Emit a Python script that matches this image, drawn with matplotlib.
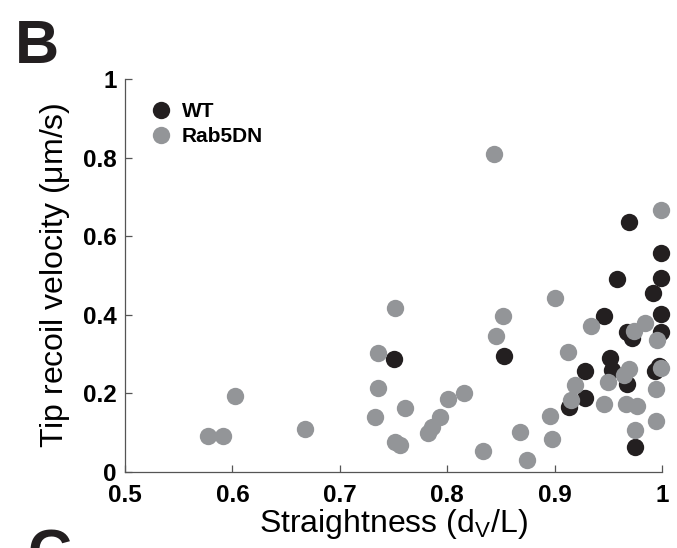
import matplotlib
matplotlib.use("Agg")
import matplotlib.pyplot as plt

plt.rcParams["font.family"] = ["Liberation Sans", "DejaVu Sans"]

# %% DATA
wt_x = [0.750, 0.853, 0.913, 0.928, 0.928, 0.946, 0.952, 0.953, 0.958, 0.967,
        0.967, 0.969, 0.972, 0.975, 0.992, 0.993, 0.997, 0.999, 0.999, 0.999,
        0.999]
wt_y = [0.287, 0.296, 0.165, 0.189, 0.257, 0.398, 0.290, 0.260, 0.492, 0.355,
        0.225, 0.636, 0.340, 0.064, 0.456, 0.258, 0.270, 0.558, 0.494, 0.401,
        0.355]

rab_x = [0.577, 0.591, 0.602, 0.668, 0.733, 0.736, 0.736, 0.751, 0.751, 0.756,
         0.761, 0.782, 0.786, 0.793, 0.801, 0.816, 0.833, 0.844, 0.845, 0.852,
         0.868, 0.874, 0.896, 0.898, 0.900, 0.912, 0.915, 0.919, 0.934, 0.946,
         0.950, 0.965, 0.966, 0.969, 0.974, 0.975, 0.977, 0.984, 0.994, 0.994,
         0.995, 0.999, 0.999]
rab_y = [0.092, 0.092, 0.193, 0.109, 0.141, 0.213, 0.302, 0.418, 0.076, 0.068,
         0.162, 0.098, 0.115, 0.139, 0.187, 0.200, 0.053, 0.809, 0.346, 0.397,
         0.103, 0.030, 0.143, 0.084, 0.444, 0.306, 0.184, 0.222, 0.372, 0.173,
         0.229, 0.246, 0.174, 0.262, 0.358, 0.107, 0.168, 0.380, 0.211, 0.131,
         0.337, 0.667, 0.264]

x_ticks = [0.5, 0.6, 0.7, 0.8, 0.9, 1.0]
x_labels = ["0.5", "0.6", "0.7", "0.8", "0.9", "1"]
y_ticks = [0, 0.2, 0.4, 0.6, 0.8, 1.0]
y_labels = ["0", "0.2", "0.4", "0.6", "0.8", "1"]

# %% PLOTTING
black = "#231f20"
gray = "#939598"
axis_col = "#555555"

fig = plt.figure(figsize=(6.77, 5.48), dpi=100)
ax = fig.add_axes([0.1846, 0.1387, 0.7933, 0.7171])

ax.plot(wt_x, wt_y, "o", color=black, markersize=12.5, markeredgewidth=0,
        clip_on=False, label="WT")
ax.plot(rab_x, rab_y, "o", color=gray, markersize=12.5, markeredgewidth=0,
        clip_on=False, label="Rab5DN")

ax.set_xlim(0.5, 1.0)
ax.set_ylim(0, 1.0)
ax.set_xticks(x_ticks)
ax.set_xticklabels(x_labels, fontsize=17.5, fontweight="bold")
ax.set_yticks(y_ticks)
ax.set_yticklabels(y_labels, fontsize=17.5, fontweight="bold")
ax.tick_params(direction="in", length=5, width=0.9, color=axis_col)
ax.tick_params(axis="x", pad=9)
ax.tick_params(axis="y", pad=6)

for side in ["top", "right"]:
    ax.spines[side].set_visible(False)
for side in ["left", "bottom"]:
    ax.spines[side].set_color(axis_col)
    ax.spines[side].set_linewidth(0.9)

ax.set_xlabel("Straightness (d$_\\mathregular{V}$/L)", fontsize=23,
              labelpad=0)
ax.set_ylabel("Tip recoil velocity ($\\mathregular{\\mu}$m/s)", fontsize=23,
              labelpad=8)

leg = ax.legend(loc="upper left", bbox_to_anchor=(0.048, 0.942), frameon=False,
                handletextpad=0.5, labelspacing=0.3, handlelength=1.0,
                borderaxespad=0, borderpad=0,
                prop={"weight": "bold", "size": 15})
for h in leg.legend_handles:
    h.set_markersize(12.5)

fig.text(0.022, 0.885, "B", fontsize=44, fontweight="bold", color=black)
fig.text(0.04, -0.045, "C", fontsize=44, fontweight="bold", color=black)

fig.savefig("out.png", dpi=100)
